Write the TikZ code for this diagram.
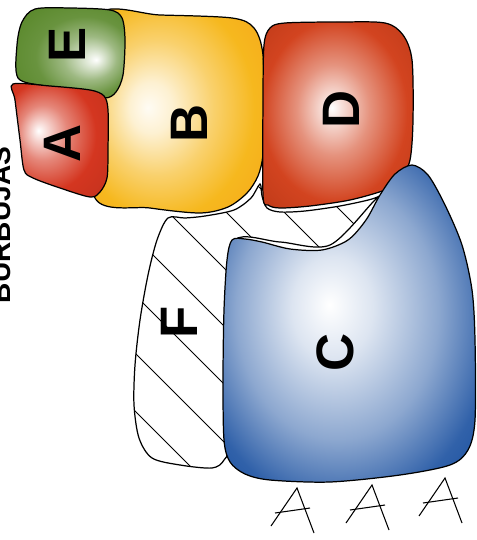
\documentclass[tikz,border=0pt]{standalone}
\usepackage{fontspec}
\setmainfont{Liberation Sans}

\definecolor{eGreen}{RGB}{92,138,46}
\definecolor{aRed}{RGB}{212,54,32}
\definecolor{bYellow}{RGB}{246,184,30}
\definecolor{dRed}{RGB}{208,58,20}
\definecolor{cBlue}{RGB}{26,80,160}

\pgfdeclareradialshading{eShade}{\pgfpoint{12bp}{-4bp}}{color(0bp)=(white); color(3bp)=(eGreen!15); color(12bp)=(eGreen!60); color(22bp)=(eGreen!92); color(32bp)=(eGreen); color(50bp)=(eGreen!80!black)}
\pgfdeclareradialshading{aShade}{\pgfpoint{-10bp}{4bp}}{color(0bp)=(white); color(3bp)=(aRed!15); color(12bp)=(aRed!60); color(24bp)=(aRed); color(50bp)=(aRed!85!black)}
\pgfdeclareradialshading{bShade}{\pgfpoint{-8bp}{0bp}}{color(0bp)=(bYellow!5); color(6bp)=(bYellow!20); color(16bp)=(bYellow!65); color(26bp)=(bYellow); color(50bp)=(bYellow!80!red)}
\pgfdeclareradialshading{dShade}{\pgfpoint{-2bp}{2bp}}{color(0bp)=(white); color(3bp)=(dRed!15); color(12bp)=(dRed!55); color(24bp)=(dRed!95); color(50bp)=(dRed!80!black)}
\pgfdeclareradialshading{cShade}{\pgfpoint{-4bp}{3bp}}{color(0bp)=(white); color(8bp)=(cBlue!15); color(20bp)=(cBlue!50); color(30bp)=(cBlue!90); color(37bp)=(cBlue); color(50bp)=(cBlue!80!black)}

\begin{document}
\begin{tikzpicture}[
    x=0.02cm, y=-0.02cm,
    blob/.style={draw=black, line width=0.7pt},
    hatchline/.style={line width=0.5pt},
    stick/.style={line width=0.6pt},
    letter/.style={font=\fontsize{30}{30}\selectfont\bfseries, rotate=90, inner sep=0pt},
    title/.style={font=\fontsize{16}{16}\selectfont\bfseries, rotate=90, inner sep=0pt},
  ]
  \useasboundingbox (0,0) rectangle (476,540);

  % --- hatched region F (behind everything) ---
  \begin{scope}
    \clip plot[smooth cycle] coordinates {(168,218) (157,240) (148,275) (140,320) (135,365)
      (134,405) (139,438) (152,458) (180,465) (212,468) (224,460) (228,440) (230,300)
      (235,240) (280,242) (330,245) (375,200) (388,192) (372,199) (340,206) (305,211)
      (280,212) (267,208) (262,196) (260,184) (251,198) (234,210) (205,216) (185,218)};
    \fill[white] (0,0) rectangle (476,540);
    \foreach \c in {130,72,...,-334}
      \draw[hatchline] (\c+100,100) -- (\c+600,600);
  \end{scope}
  \draw[blob] plot[smooth cycle] coordinates {(168,218) (157,240) (148,275) (140,320) (135,365)
      (134,405) (139,438) (152,458) (180,465) (212,468) (224,460) (228,440) (230,300)
      (235,240) (280,242) (330,245) (375,200) (388,192) (372,199) (340,206) (305,211)
      (280,212) (267,208) (262,196) (260,184) (251,198) (234,210) (205,216) (185,218)};

  % --- bubbles ---
  \shadedraw[blob, shading=bShade] plot[smooth cycle] coordinates {(100,14) (160,15) (232,18)
      (254,28) (263,55) (264,120) (263,155) (258,176) (247,193) (228,207) (200,213)
      (150,208) (95,198) (95,100)};
  \shadedraw[blob, shading=dShade] plot[smooth cycle] coordinates {(263,195) (263,100) (264,45)
      (270,28) (285,23) (340,22) (385,23) (403,35) (412,60) (413,120) (410,160)
      (400,180) (385,190) (350,200) (310,206) (280,208) (268,205)};
  \shadedraw[blob, shading=cShade] plot[smooth cycle] coordinates {(232,240) (245,239) (262,242)
      (290,249) (322,250) (348,240) (366,220) (380,195) (395,174) (412,165) (428,175)
      (445,205) (462,245) (472,290) (475,340) (475,420) (468,450) (450,465) (400,475)
      (330,482) (270,480) (245,474) (230,462) (224,440) (223,380) (224,310) (227,260)};
  \shadedraw[blob, shading=eShade] plot[smooth cycle] coordinates {(18,78) (17,45) (22,22)
      (35,9) (70,8) (110,10) (122,18) (125,40) (123,75) (116,92) (105,98) (80,92) (45,86)};
  \shadedraw[blob, shading=aShade] plot[smooth cycle] coordinates {(13,84) (50,86) (90,90)
      (104,96) (108,110) (108,150) (107,178) (100,192) (90,197) (60,188) (33,178)
      (24,170) (20,140) (15,100)};

  % --- labels ---
  \node[letter] (labE) at (67,45) {E};
  \node[letter] (labA) at (62,143) {A};
  \node[letter] (labB) at (189,123) {B};
  \node[letter] (labD) at (341,109) {D};
  \node[letter] (labC) at (335,352) {C};
  \node[letter] (labF) at (179,322) {F};
  \node[title] (title) at (1,225) {BURBUJAS};

  % --- small A marks under C ---
  \foreach \ax/\ay in {297/488, 372/485, 445/478} {
    \draw[stick] (\ax-26,\ay+38) -- (\ax,\ay) -- (\ax+17,\ay+45);
    \draw[stick] (\ax-22,\ay+25) -- (\ax+13,\ay+20);
  }
\end{tikzpicture}
\end{document}
